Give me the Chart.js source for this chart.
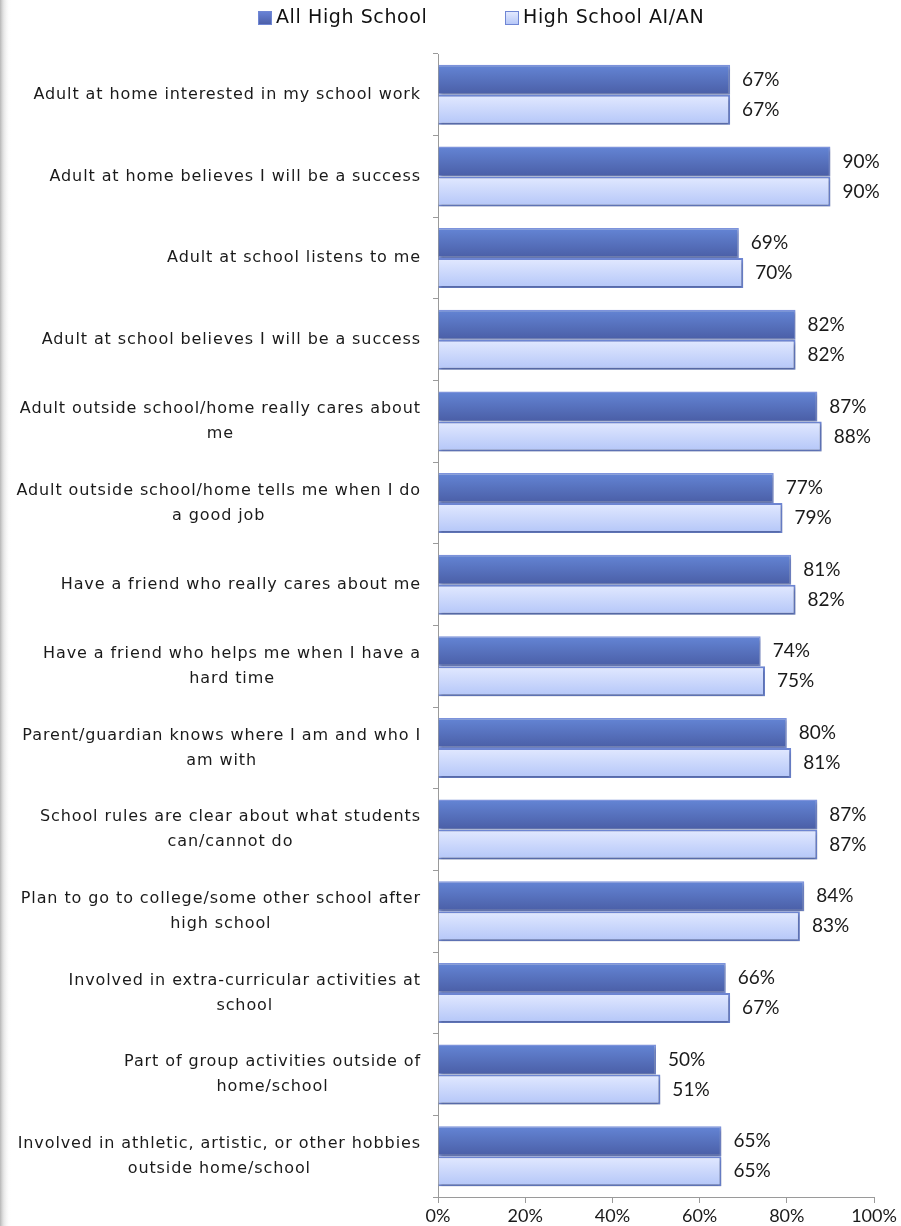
<!DOCTYPE html>
<html>
<head>
<meta charset="utf-8">
<script src="https://cdn.jsdelivr.net/npm/chart.js@4"></script>
<style>
  html, body { margin: 0; padding: 0; background: #fff; }
  #wrap { width: 901px; height: 1226px; }
</style>
</head>
<body>
<div id="wrap"><canvas id="chart" width="901" height="1226"></canvas></div>
<script>
const categories = [
  "Adult at home interested in my school work",
  "Adult at home believes I will be a success",
  "Adult at school listens to me",
  "Adult at school believes I will be a success",
  ["Adult outside school/home really cares about ", "me"],
  ["Adult outside school/home tells me when I do", "a good job"],
  "Have a friend who really cares about me",
  ["Have a friend who helps me when I have a", "hard time"],
  ["Parent/guardian knows where I am and who I", "am with"],
  ["School rules are clear about what students", "can/cannot do"],
  ["Plan to go to college/some other school after", "high school"],
  ["Involved in extra-curricular activities at", "school"],
  ["Part of group activities outside of", "home/school"],
  ["Involved in athletic, artistic, or other hobbies", "outside home/school"]
]
const allHighSchool = [67, 90, 69, 82, 87, 77, 81, 74, 80, 87, 84, 66, 50, 65]
const highSchoolAIAN = [67, 90, 70, 82, 88, 79, 82, 75, 81, 87, 83, 67, 51, 65]
const seriesNames = ["All High School", "High School AI/AN"]
const xTicks = [0, 20, 40, 60, 80, 100]

const catPct = 0.735
const labelFont = '16px "DejaVu Sans", sans-serif'
const numFont = '19px Lato, "Open Sans", sans-serif'

// vertical gradient for each bar, worked out from the category scale
const barGradient = (top, bottom) => (context) => {
  const chart = context.chart
  const yScale = chart.scales.y
  if (!yScale || context.dataIndex === undefined || !chart.chartArea) return top
  const center = yScale.getPixelForValue(context.dataIndex)
  const band = (yScale.bottom - yScale.top) / categories.length
  const t = band * catPct / 2
  const y0 = context.datasetIndex === 0 ? center - t : center
  const g = chart.ctx.createLinearGradient(0, y0, 0, y0 + t)
  g.addColorStop(0, top)
  g.addColorStop(1, bottom)
  return g
}

const sideShadow = {
  id: 'sideShadow',
  beforeDraw(chart) {
    const c = chart.ctx
    const g = c.createLinearGradient(0, 0, 11, 0)
    g.addColorStop(0, 'rgba(170,170,170,0.85)')
    g.addColorStop(0.35, 'rgba(215,215,215,0.6)')
    g.addColorStop(1, 'rgba(255,255,255,0)')
    c.save()
    c.fillStyle = g
    c.fillRect(0, 0, 11, chart.height)
    c.restore()
  }
}

const barShadow = {
  id: 'barShadow',
  beforeDatasetsDraw(chart) {
    const c = chart.ctx
    c.save()
    c.shadowColor = 'rgba(0,0,0,0.3)'
    c.shadowBlur = 3
    c.shadowOffsetX = 1
    c.shadowOffsetY = 2
  },
  afterDatasetsDraw(chart) {
    chart.ctx.restore()
  }
}

const textBits = {
  id: 'textBits',
  afterDraw(chart) {
    const c = chart.ctx
    const yScale = chart.scales.y
    c.save()
    c.fillStyle = '#1a1a1a'
    c.textBaseline = 'middle'

    // category labels, lines centred on each other, block right-aligned by the axis
    c.font = labelFont
    c.letterSpacing = '0.9px'
    c.textAlign = 'center'
    const right = chart.chartArea.left - 17
    categories.forEach((lab, i) => {
      const lines = Array.isArray(lab) ? lab : [lab]
      const w = Math.max(...lines.map(l => c.measureText(l.trimEnd()).width))
      const cx = right - w / 2
      const lh = 25
      const y0 = yScale.getPixelForValue(i) - (lines.length - 1) * lh / 2
      lines.forEach((l, k) => c.fillText(l.trim(), cx, y0 + k * lh))
    })

    // value labels at the bar ends
    c.letterSpacing = '0px'
    c.font = numFont
    c.textAlign = 'left'
    chart.data.datasets.forEach((ds, di) => {
      chart.getDatasetMeta(di).data.forEach((bar, i) => {
        c.fillText(ds.data[i] + '%', bar.x + 12, bar.y)
      })
    })

    // legend
    c.font = '19px "DejaVu Sans", sans-serif'
    c.letterSpacing = '0.6px'
    let x = 258
    chart.data.datasets.forEach((ds, di) => {
      const fills = di === 0 ? ['#6a84d8', '#4a5da6'] : ['#e6ecff', '#b3c5f7']
      const g = c.createLinearGradient(0, 11, 0, 25)
      g.addColorStop(0, fills[0])
      g.addColorStop(1, fills[1])
      c.fillStyle = g
      c.fillRect(x, 11, 14, 14)
      c.strokeStyle = '#6f86d4'
      c.lineWidth = 1
      c.strokeRect(x + 0.5, 11.5, 13, 13)
      c.fillStyle = '#111'
      c.textAlign = 'left'
      c.fillText(ds.label, x + 18, 18)
      x = di === 0 ? 505 : x
    })
    c.restore()
  }
}

new Chart(document.getElementById('chart'), {
  type: 'bar',
  data: {
    labels: categories,
    datasets: [
      {
        label: seriesNames[0],
        data: allHighSchool,
        backgroundColor: barGradient('#6485d5', '#4a5ea6'),
        borderColor: '#7d93dc',
        borderWidth: 1.5,
        categoryPercentage: catPct,
        barPercentage: 1
      },
      {
        label: seriesNames[1],
        data: highSchoolAIAN,
        backgroundColor: barGradient('#e2e9ff', '#b4c6f8'),
        borderColor: '#6d85d2',
        borderWidth: 2,
        categoryPercentage: catPct,
        barPercentage: 1
      }
    ]
  },
  options: {
    indexAxis: 'y',
    responsive: false,
    animation: false,
    layout: { padding: { top: 54, right: 27, left: 0, bottom: 0 } },
    plugins: {
      legend: { display: false },
      tooltip: { enabled: false }
    },
    scales: {
      x: {
        min: 0,
        max: 100,
        afterBuildTicks: (scale) => { scale.ticks = xTicks.map(v => ({ value: v })) },
        afterFit: (scale) => { scale.height = 29 },
        border: { color: '#9a9a9a', width: 1 },
        grid: { drawOnChartArea: false, drawTicks: true, tickLength: 6, color: '#9a9a9a' },
        ticks: {
          padding: 2,
          color: '#1a1a1a',
          font: { family: 'Lato, "Open Sans", sans-serif', size: 18 },
          callback: (v) => v + '%'
        }
      },
      y: {
        afterFit: (scale) => { scale.width = 438 },
        border: { color: '#9a9a9a', width: 1 },
        grid: { drawOnChartArea: false, drawTicks: true, tickLength: 5, color: '#9a9a9a', offset: true },
        ticks: { display: false }
      }
    }
  },
  plugins: [sideShadow, barShadow, textBits]
})
</script>
</body>
</html>
